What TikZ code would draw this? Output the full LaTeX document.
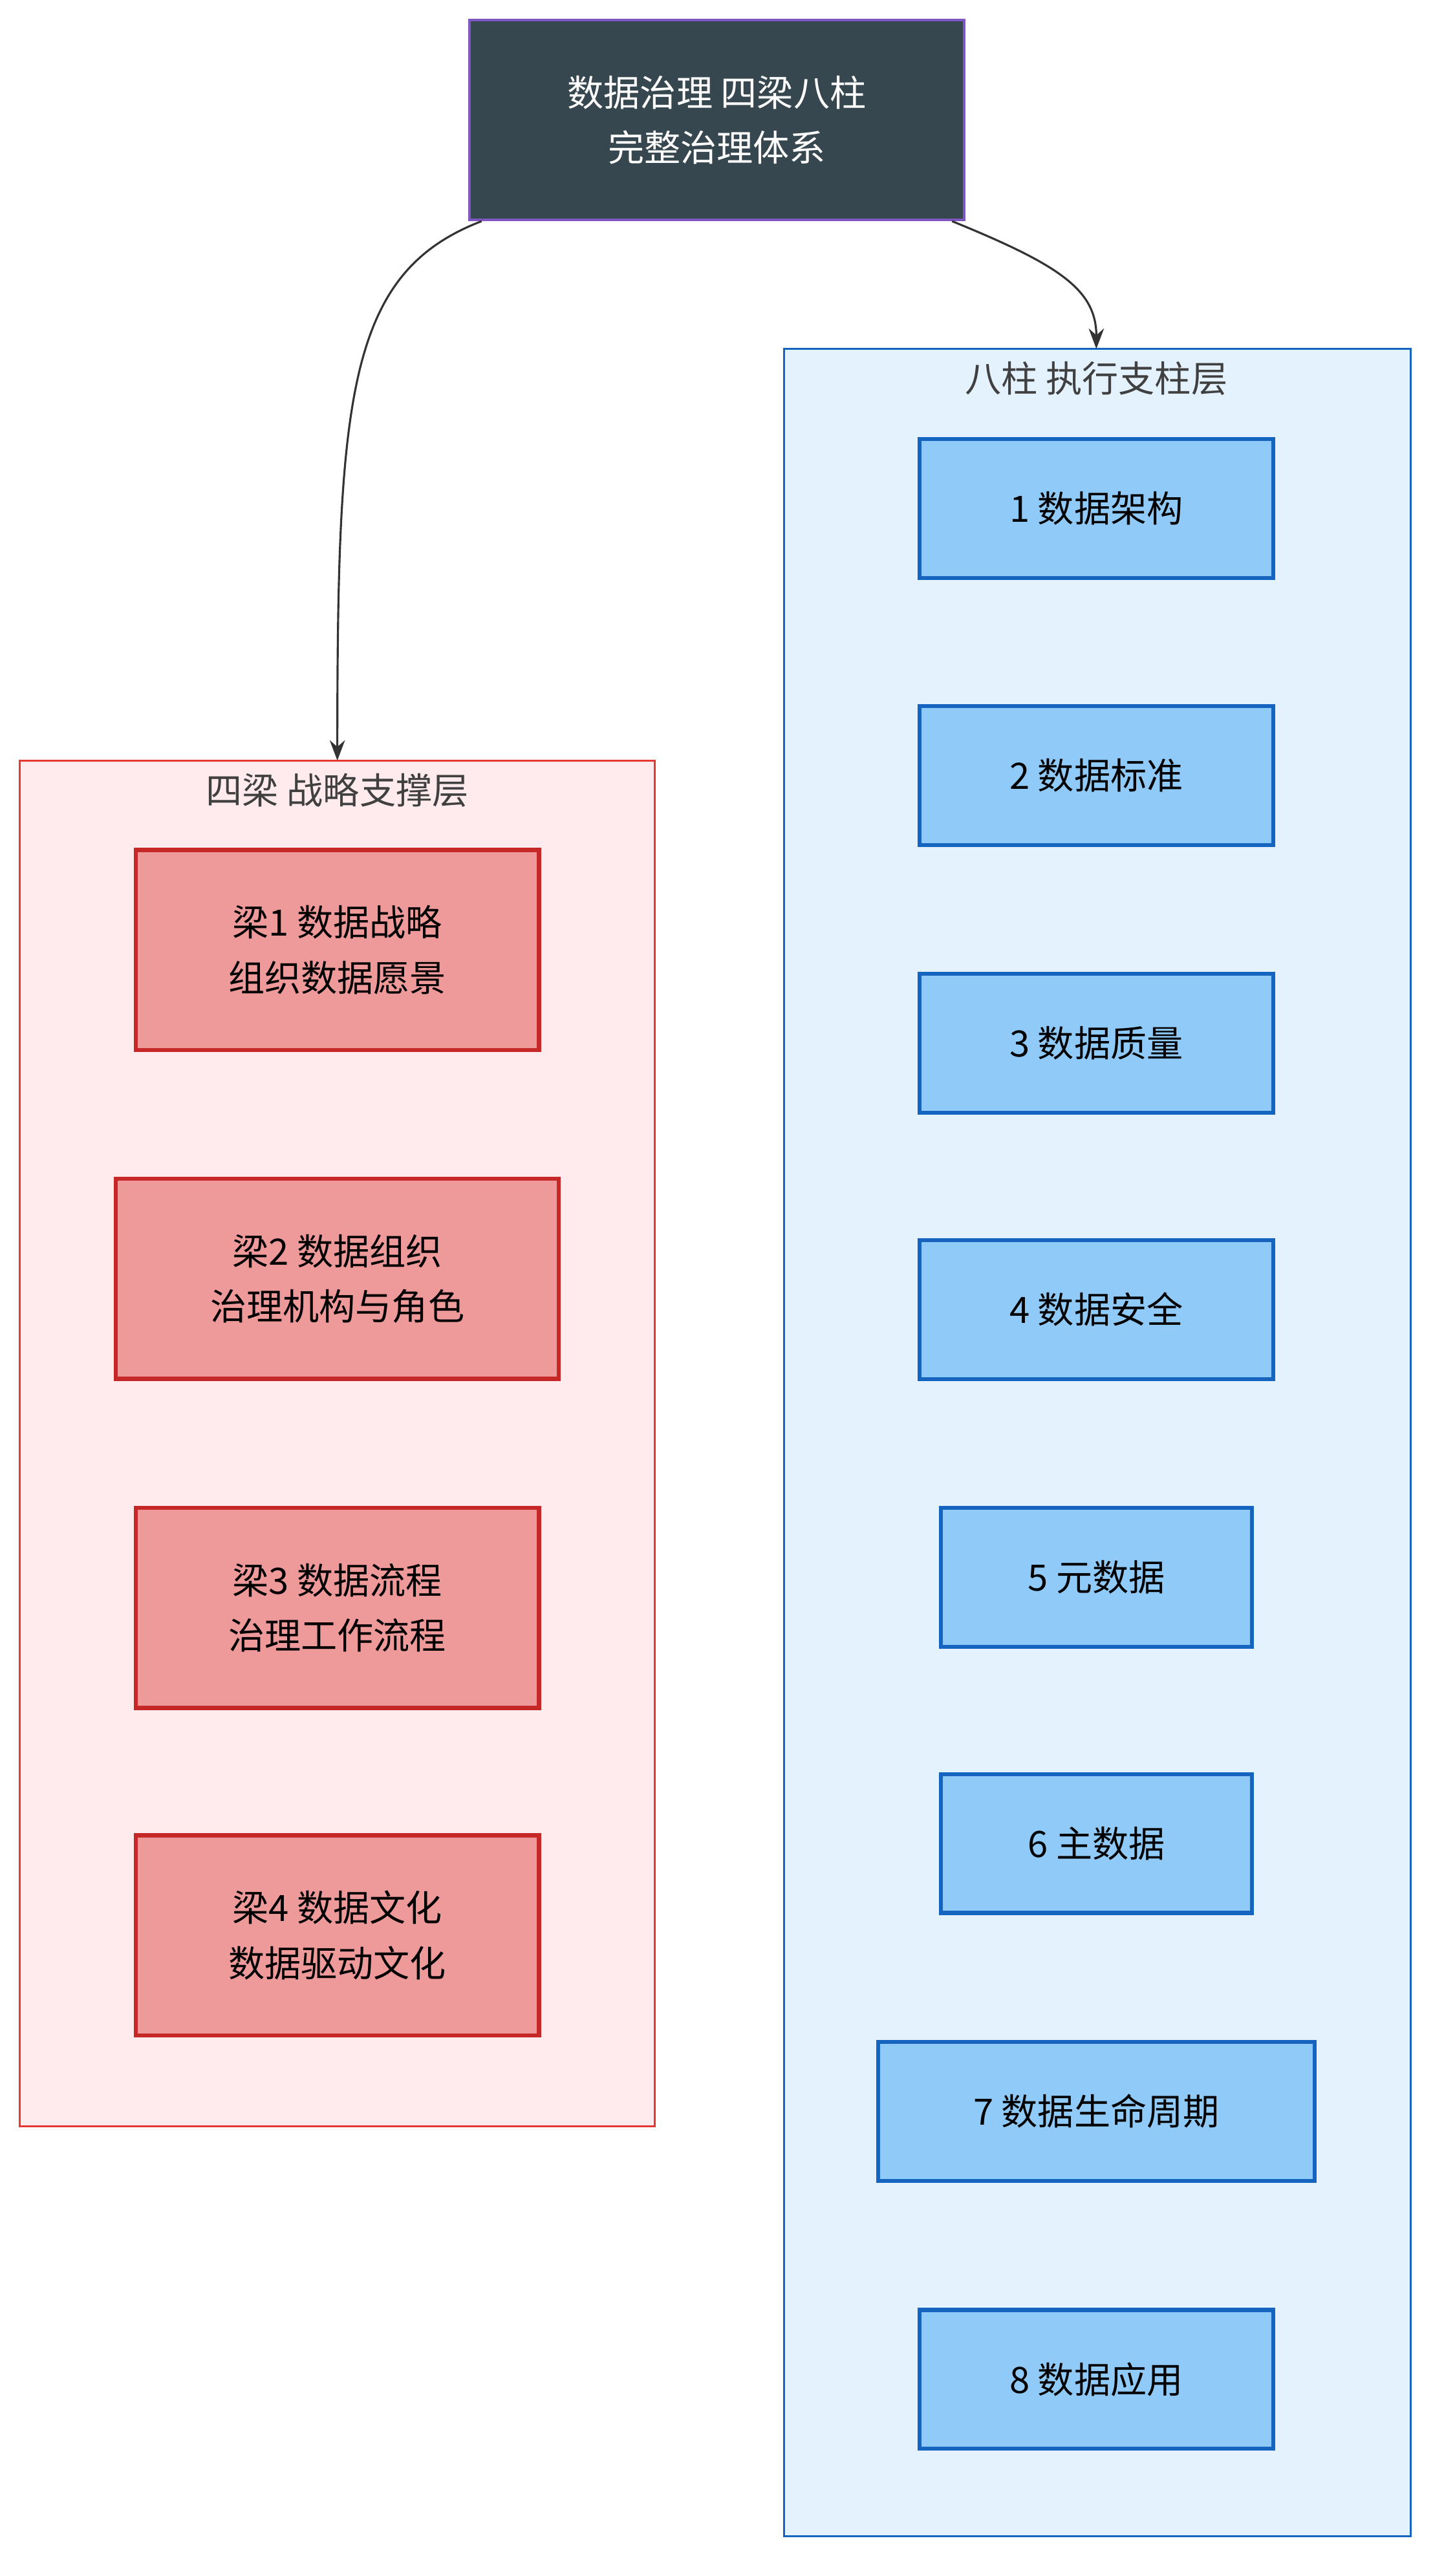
\documentclass[tikz,border=0pt]{standalone}
\usepackage{fontspec}
\setmainfont{Noto Sans CJK SC}
\usetikzlibrary{arrows.meta,positioning}
\definecolor{topfill}{HTML}{37474F}
\definecolor{topline}{HTML}{7E57C2}
\definecolor{liangbg}{HTML}{FFEBEE}
\definecolor{liangline}{HTML}{E53935}
\definecolor{liangfill}{HTML}{EF9A9A}
\definecolor{liangedge}{HTML}{C62828}
\definecolor{zhubg}{HTML}{E3F2FD}
\definecolor{zhufill}{HTML}{90CAF9}
\definecolor{zhuline}{HTML}{1565C0}
\tikzset{
  liang/.style={draw=liangedge, fill=liangfill, line width=1.4pt, align=center,
    minimum height=2.42cm, font=\fontsize{12.5}{19}\selectfont},
  zhu/.style={draw=zhuline, fill=zhufill, line width=1.4pt, align=center,
    minimum height=1.68cm, font=\fontsize{12.5}{19}\selectfont},
  link/.style={draw=black!80, line width=0.7pt, -{Stealth[length=7pt]}}
}
\begin{document}
\begin{tikzpicture}[x=0.02cm, y=-0.02cm]
\useasboundingbox (0,0) rectangle (873,1558);
% clusters
\draw[fill=liangbg, draw=liangline, line width=0.7pt] (12,460) rectangle (396,1286);
\node[font=\fontsize{12.5}{15}\selectfont, text=black!75] (liangtitle) at (204,478) {四梁 战略支撑层};
\draw[fill=zhubg, draw=zhuline, line width=0.7pt] (474,211) rectangle (853,1534);
\node[font=\fontsize{12.5}{15}\selectfont, text=black!75] (zhutitle) at (663,229) {八柱 执行支柱层};
\coordinate (liangtop) at (204,460);
\coordinate (zhutop) at (663,211);
% top
\node[draw=topline, fill=topfill, text=white, line width=0.9pt, align=center,
  minimum width=5.98cm, minimum height=2.42cm, font=\fontsize{12.5}{19}\selectfont]
  (root) at (433.5,72.5) {数据治理 四梁八柱\\完整治理体系};
% four beams
\node[liang, minimum width=4.88cm] (l1) at (204,574.5) {梁1 数据战略\\组织数据愿景};
\node[liang, minimum width=5.36cm] (l2) at (204,773.5) {梁2 数据组织\\治理机构与角色};
\node[liang, minimum width=4.88cm] (l3) at (204,972.5) {梁3 数据流程\\治理工作流程};
\node[liang, minimum width=4.88cm] (l4) at (204,1170.5) {梁4 数据文化\\数据驱动文化};
% eight pillars
\node[zhu, minimum width=4.28cm] (z1) at (663,307.5) {1 数据架构};
\node[zhu, minimum width=4.28cm] (z2) at (663,469) {2 数据标准};
\node[zhu, minimum width=4.28cm] (z3) at (663,631) {3 数据质量};
\node[zhu, minimum width=4.28cm] (z4) at (663,792) {4 数据安全};
\node[zhu, minimum width=3.76cm] (z5) at (663,954) {5 元数据};
\node[zhu, minimum width=3.76cm] (z6) at (663,1115) {6 主数据};
\node[zhu, minimum width=5.28cm] (z7) at (663,1277) {7 数据生命周期};
\node[zhu, minimum width=4.28cm] (z8) at (663,1439) {8 数据应用};
% links
\draw[link] (root.south west) ++(8,0) .. controls (210,165) and (204,240) .. (liangtop);
\draw[link] (root.south east) ++(-8,0) .. controls (640,160) and (663,175) .. (zhutop);
\end{tikzpicture}
\end{document}
